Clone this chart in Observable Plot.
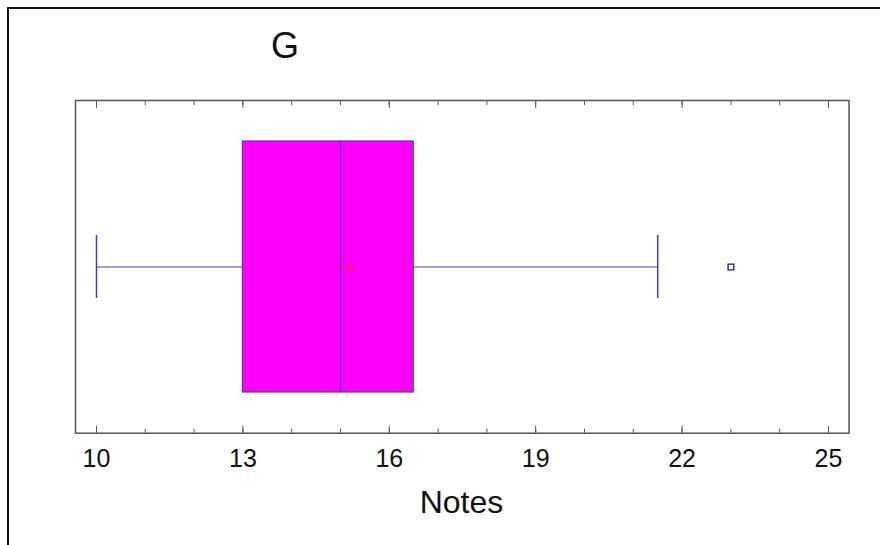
<!DOCTYPE html>
<html>
<head>
<meta charset="utf-8">
<script src="https://cdn.jsdelivr.net/npm/d3@7"></script>
<script src="https://cdn.jsdelivr.net/npm/@observablehq/plot@0.6"></script>
<style>
  html, body { margin: 0; padding: 0; background: #fff; }
  #wrap { position: relative; width: 880px; height: 545px; overflow: hidden; font-family: "Liberation Sans", Arial, sans-serif; }
  #border { position: absolute; left: 7px; top: 7px; right: -10px; bottom: -10px; border-left: 2px solid #111; border-top: 2px solid #111; pointer-events: none; }
  #title { position: absolute; left: 271px; top: 28px; font-size: 36px; color: #111; line-height: 1; }
  #xlabel { position: absolute; left: 0; width: 880px; text-align: center; top: 486px; font-size: 32px; color: #111; line-height: 1; padding-left: 43px; box-sizing: border-box; }
  #chart { position: absolute; left: 0; top: 0; }
</style>
</head>
<body>
<div id="wrap">
  <div id="chart"></div>
  <div id="border"></div>
  <div id="title">G</div>
  <div id="xlabel">Notes</div>
</div>
<script>
// Data
const groups = ["G"];
const minValues = [10];
const q1Values = [13];
const medianValues = [15];
const q3Values = [16.5];
const maxValues = [21.5];
const meanValues = [15.2];
const outlierValues = [23];
const majorTicks = [10, 13, 16, 19, 22, 25];
const minorTicks = [10, 11, 12, 13, 14, 15, 16, 17, 18, 19, 20, 21, 22, 23, 24, 25];

const rows = groups.map((g, i) => ({
  g, min: minValues[i], q1: q1Values[i], median: medianValues[i],
  q3: q3Values[i], max: maxValues[i], mean: meanValues[i]
}));
const outliers = outlierValues.map(v => ({g: groups[0], v}));

const lineColor = "#4a3cb0";
const frameColor = "#555555";

const chart = Plot.plot({
  width: 880,
  height: 545,
  marginLeft: 75,
  marginRight: 31.5,
  marginTop: 100,
  marginBottom: 112.3,
  style: {fontFamily: "'Liberation Sans', Arial, sans-serif", background: "transparent"},
  x: {domain: [9.57, 25.42]},
  y: {type: "band", domain: groups, paddingInner: 0, paddingOuter: 0.161, axis: null},
  marks: [
    Plot.ruleY(rows, {y: "g", x1: "min", x2: "max", stroke: lineColor, strokeWidth: 1.2}),
    Plot.tickX(rows, {x: "min", y: "g", stroke: lineColor, strokeWidth: 1.5, insetTop: 94, insetBottom: 94}),
    Plot.tickX(rows, {x: "max", y: "g", stroke: lineColor, strokeWidth: 1.5, insetTop: 94, insetBottom: 94}),
    Plot.barX(rows, {x1: "q1", x2: "q3", y: "g", fill: "#ff00ff", stroke: lineColor, strokeWidth: 1.2}),
    Plot.tickX(rows, {x: "median", y: "g", stroke: lineColor, strokeWidth: 1.2}),
    Plot.dot(rows, {x: "mean", y: "g", symbol: "plus", r: 2.5, stroke: "#ff2040", strokeWidth: 1.5}),
    Plot.dot(outliers, {x: "v", y: "g", symbol: "square", r: 3.2, stroke: "#1c1c80", fill: "#ffffff", strokeWidth: 1.3}),
    Plot.frame({stroke: frameColor, strokeWidth: 1.5}),
    Plot.axisX({anchor: "bottom", ticks: minorTicks, tickSize: -4, stroke: frameColor, text: null, label: null}),
    Plot.axisX({anchor: "bottom", ticks: majorTicks, tickSize: -7, stroke: frameColor, text: null, label: null}),
    Plot.axisX({anchor: "top", ticks: minorTicks, tickSize: -4, stroke: frameColor, text: null, label: null}),
    Plot.axisX({anchor: "top", ticks: majorTicks, tickSize: -7, stroke: frameColor, text: null, label: null}),
    Plot.axisX({anchor: "bottom", ticks: majorTicks, tickSize: 0, tickPadding: 16, fontSize: 25, fill: "#111", label: null})
  ]
});
document.getElementById("chart").appendChild(chart);
</script>
</body>
</html>
